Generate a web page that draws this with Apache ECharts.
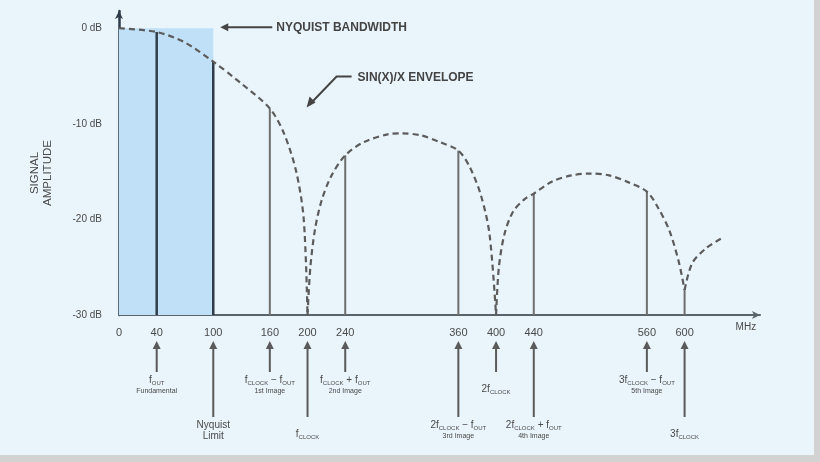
<!DOCTYPE html>
<html><head><meta charset="utf-8">
<script src="https://cdn.jsdelivr.net/npm/echarts@6/dist/echarts.min.js"></script>
<style>
html,body{margin:0;padding:0;background:#d2d2d2;}
#c{width:820px;height:462px;background:linear-gradient(#eaf4fb,#eaf4fb) no-repeat 0 0/814px 455px,#d2d2d2;}
</style>
</head><body><div id="c"></div>
<script>
// ---- data ----
const tickValues = [0, 40, 100, 160, 200, 240, 360, 400, 440, 560, 600];
const yTicks = [0, -10, -20, -30];
const yTickLabels = ['0 dB', '-10 dB', '-20 dB', '-30 dB'];
const lineFreqs = [40, 100, 160, 240, 360, 440, 560, 600];
const lineLevels = [-0.4, -3.5, -8.4, -13.3, -12.8, -17.3, -17.1, -27.4];
const envLobe1 = [[0,0],[40,-0.4],[70,-1.5],[100,-3.5],[130,-5.8],[160,-8.4],[175,-11],[188,-15],[196,-20],[200,-30]];
const envLobe2 = [[200,-30],[203,-25],[208,-21],[215,-18],[225,-15.5],[240,-13.3],[260,-11.9],[285,-11.1],[300,-11],[320,-11.2],[340,-11.9],[360,-12.8],[372,-14.5],[384,-17.5],[393,-21.5],[400,-30]];
const envLobe3 = [[400,-30],[403,-25],[409,-21.5],[418,-19.2],[430,-17.9],[440,-17.3],[460,-16],[480,-15.4],[500,-15.2],[520,-15.4],[540,-16.1],[560,-17.1],[572,-18.8],[584,-21.2],[594,-24.5],[600,-27.4]];
const envLobe4 = [[600,-27.4],[608,-24.6],[623,-23],[639,-22]];
const markerValues = [40, 100, 160, 200, 240, 360, 400, 440, 560, 600];
const markerTexts = [
  '{m|f}{s|OUT}\n{i|Fundamental}',
  '{m|Nyquist}\n{m|Limit}',
  '{m|f}{s|CLOCK}{m| − f}{s|OUT}\n{i|1st Image}',
  '{m|f}{s|CLOCK}',
  '{m|f}{s|CLOCK}{m| + f}{s|OUT}\n{i|2nd Image}',
  '{m|2f}{s|CLOCK}{m| − f}{s|OUT}\n{i|3rd Image}',
  '{m|2f}{s|CLOCK}',
  '{m|2f}{s|CLOCK}{m| + f}{s|OUT}\n{i|4th Image}',
  '{m|3f}{s|CLOCK}{m| − f}{s|OUT}\n{i|5th Image}',
  '{m|3f}{s|CLOCK}'
];
const xUnit = 'MHz';
const yName = 'SIGNAL\nAMPLITUDE';
const nyquistText = 'NYQUIST BANDWIDTH';
const envelopeText = 'SIN(X)/X ENVELOPE';

// ---- chart ----
const FONT = 'Liberation Sans, Arial, sans-serif';
const TXT = '#4a4a4a';
const chart = echarts.init(document.getElementById('c'));
const envStyle = {type: [6, 4], width: 2.2, color: '#5c5c5c'};
const envSeries = (data) => ({type: 'line', data, smooth: 0.3, showSymbol: false, silent: true, lineStyle: envStyle, z: 6});

const s1 = envSeries(envLobe1);
s1.markArea = {silent: true, itemStyle: {color: '#bfe0f6'}, data: [[{coord: [0, -30]}, {coord: [100, 0]}]]};

chart.setOption({
  backgroundColor: 'transparent',
  animation: false,
  grid: {left: 119, right: 60, top: 11, bottom: 147},
  xAxis: {
    type: 'value', min: 0, max: 680,
    axisLine: {show: true, onZero: false, symbol: ['none', 'arrow'], symbolSize: [6, 8], lineStyle: {color: '#5a636b', width: 2}},
    axisTick: {show: false}, splitLine: {show: false},
    axisLabel: {customValues: tickValues, color: TXT, fontSize: 11, margin: 12, fontFamily: FONT}
  },
  yAxis: {
    type: 'value', min: -30, max: 1.8,
    axisLine: {show: true, onZero: false, symbol: ['none', 'arrow'], symbolSize: [6, 8], lineStyle: {color: '#2e3b48', width: 2.5}},
    axisTick: {show: false}, splitLine: {show: false},
    axisLabel: {customValues: yTicks, formatter: v => yTickLabels[yTicks.indexOf(v)], color: TXT, fontSize: 10, margin: 17, fontFamily: FONT}
  },
  series: [
    s1, envSeries(envLobe2), envSeries(envLobe3), envSeries(envLobe4),
    {
      type: 'custom', z: 5, silent: true,
      data: lineFreqs.map((f, i) => [f, lineLevels[i]]),
      renderItem: (params, api) => {
        const x = api.value(0), y = api.value(1);
        const p0 = api.coord([x, -30]), p1 = api.coord([x, y]);
        const dark = x <= 100;
        return {type: 'line', shape: {x1: p0[0], y1: p0[1], x2: p1[0], y2: p1[1]},
          style: {stroke: dark ? '#2f3d4a' : '#6e6e6e', lineWidth: dark ? 2.5 : 2}};
      }
    }
  ]
});

// ---- annotations ----
const px = v => chart.convertToPixel({xAxisIndex: 0}, v);
const py = v => chart.convertToPixel({yAxisIndex: 0}, v);
const axisY = py(-30);
const ARW = '#5a5a5a';
const g = [];
const rich = {
  m: {fontSize: 10, fill: TXT, fontFamily: FONT, lineHeight: 11, verticalAlign: 'middle'},
  s: {fontSize: 6, fill: TXT, fontFamily: FONT, lineHeight: 8, verticalAlign: 'bottom'},
  i: {fontSize: 7, fill: TXT, fontFamily: FONT, lineHeight: 10}
};
markerValues.forEach((v, i) => {
  const x = px(v);
  const tip = axisY + 26;
  const long = i % 2 === 1;
  const end = long ? axisY + 102 : axisY + 57;
  const single = markerTexts[i].indexOf('\n') < 0;
  g.push({type: 'line', shape: {x1: x, y1: tip + 6, x2: x, y2: end}, style: {stroke: ARW, lineWidth: 2}});
  g.push({type: 'polygon', shape: {points: [[x, tip], [x - 4, tip + 8], [x + 4, tip + 8]]}, style: {fill: ARW}});
  g.push({type: 'text', x: x, y: end + (single ? 12 : 3), style: {text: markerTexts[i], rich, align: 'center', verticalAlign: 'top'}});
});
// x unit
g.push({type: 'text', x: px(665), y: axisY + 12, style: {text: xUnit, fontSize: 10, fill: TXT, fontFamily: FONT, align: 'center', verticalAlign: 'middle'}});
// y axis name
g.push({type: 'text', x: 41, y: 173, rotation: Math.PI / 2, style: {text: yName, fontSize: 11.5, lineHeight: 13, fill: TXT, fontFamily: FONT, align: 'center', verticalAlign: 'middle'}});
// Nyquist bandwidth arrow + text
const ny = py(0) - 1;
const nx = px(100) + 7;
g.push({type: 'line', shape: {x1: nx + 6, y1: ny, x2: nx + 52, y2: ny}, style: {stroke: '#444', lineWidth: 2}});
g.push({type: 'polygon', shape: {points: [[nx, ny], [nx + 8, ny - 4], [nx + 8, ny + 4]]}, style: {fill: '#444'}});
g.push({type: 'text', x: nx + 56, y: ny, style: {text: nyquistText, fontSize: 12, fontWeight: 'bold', fill: '#444', fontFamily: FONT, align: 'left', verticalAlign: 'middle'}});
// sin(x)/x envelope arrow + text (tip points at the envelope)
const tx = px(199), ty = py(-8.3);
g.push({type: 'polyline', shape: {points: [[tx + 45, ty - 31], [tx + 30, ty - 31], [tx + 5, ty - 5]]}, style: {stroke: '#444', lineWidth: 2, fill: null}});
g.push({type: 'polygon', shape: {points: [[tx, ty], [tx + 9, ty - 5], [tx + 3, ty - 11]]}, style: {fill: '#444'}});
g.push({type: 'text', x: tx + 51, y: ty - 30, style: {text: envelopeText, fontSize: 12, fontWeight: 'bold', fill: '#444', fontFamily: FONT, align: 'left', verticalAlign: 'middle'}});

chart.setOption({graphic: g});
</script>
</body></html>
